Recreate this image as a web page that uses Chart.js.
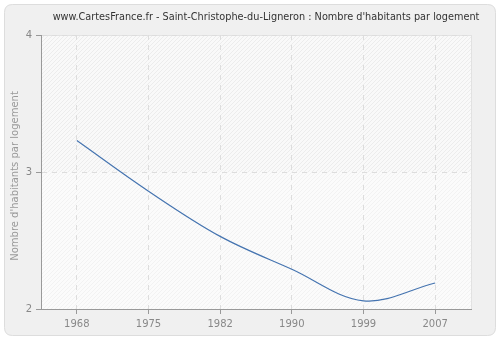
<!DOCTYPE html>
<html>
<head>
<meta charset="utf-8">
<script src="https://cdn.jsdelivr.net/npm/chart.js@4.4.0/dist/chart.umd.min.js"></script>
<style>
  html, body { margin: 0; padding: 0; background: #ffffff; }
  #wrap { width: 500px; height: 340px; }
</style>
</head>
<body>
<div id="wrap"><canvas id="c" width="500" height="340"></canvas></div>
<script>
// Census years and average household size
const years = ['1968', '1975', '1982', '1990', '1999', '2007'];
const habitantsParLogement = [3.23, 2.86, 2.53, 2.29, 2.06, 2.19];
const yTicks = [2, 3, 4];

const titleText = "www.CartesFrance.fr - Saint-Christophe-du-Ligneron : Nombre d'habitants par logement";
const yTitle = "Nombre d'habitants par logement";
const FONT = '"DejaVu Sans", Verdana, sans-serif';
const TITLE_FONT = '"DejaVu Sans Condensed", "DejaVu Sans", sans-serif';

function hatch(base, lineCol) {
  const n = 4;
  const p = document.createElement('canvas');
  p.width = n; p.height = n;
  const g = p.getContext('2d');
  g.fillStyle = base; g.fillRect(0, 0, n, n);
  g.fillStyle = lineCol;
  for (let i = 0; i < n; i++) g.fillRect(n - 1 - i, i, 1, 1);
  return p;
}

function roundRect(ctx, x, y, w, h, r) {
  ctx.beginPath();
  ctx.moveTo(x + r, y);
  ctx.lineTo(x + w - r, y);
  ctx.quadraticCurveTo(x + w, y, x + w, y + r);
  ctx.lineTo(x + w, y + h - r);
  ctx.quadraticCurveTo(x + w, y + h, x + w - r, y + h);
  ctx.lineTo(x + r, y + h);
  ctx.quadraticCurveTo(x, y + h, x, y + h - r);
  ctx.lineTo(x, y + r);
  ctx.quadraticCurveTo(x, y, x + r, y);
  ctx.closePath();
}

const backdrop = {
  id: 'backdrop',
  beforeDraw(chart) {
    const ctx = chart.ctx;
    const a = chart.chartArea;
    const y = chart.scales.y;
    ctx.save();
    ctx.fillStyle = '#ffffff';
    ctx.fillRect(0, 0, chart.width, chart.height);
    roundRect(ctx, 4.5, 4.5, 491, 331, 8);
    ctx.fillStyle = '#f0f0f0';
    ctx.fill();
    ctx.strokeStyle = '#dddddd';
    ctx.lineWidth = 1;
    ctx.stroke();

    const mid = y.getPixelForValue(3);
    ctx.fillStyle = ctx.createPattern(hatch('#f9f9f9', '#ececec'), 'repeat');
    ctx.fillRect(a.left, a.top, a.right - a.left, mid - a.top);
    ctx.fillStyle = ctx.createPattern(hatch('#fbfbfb', '#f2f2f2'), 'repeat');
    ctx.fillRect(a.left, mid, a.right - a.left, a.bottom - mid);
    ctx.strokeStyle = '#e2e2e2';
    ctx.strokeRect(a.left + 0.5, a.top + 0.5, a.right - a.left, a.bottom - a.top);

    // chart title
    ctx.fillStyle = '#333333';
    ctx.font = '10.8px ' + TITLE_FONT;
    ctx.textAlign = 'center';
    ctx.textBaseline = 'middle';
    ctx.fillText(titleText, 266, 17);

    // y axis title
    ctx.translate(15, 176);
    ctx.rotate(-Math.PI / 2);
    ctx.fillStyle = '#999999';
    ctx.font = '10px ' + FONT;
    ctx.fillText(yTitle, 0, 0);
    ctx.restore();
  }
};

new Chart(document.getElementById('c'), {
  type: 'line',
  data: {
    labels: years,
    datasets: [{
      data: habitantsParLogement,
      borderColor: '#4574b0',
      borderWidth: 1.2,
      pointRadius: 0,
      tension: 0.35,
      fill: false
    }]
  },
  options: {
    responsive: false,
    animation: false,
    events: [],
    layout: { padding: { left: 0, right: 29, top: 35, bottom: 0 } },
    plugins: { legend: { display: false }, title: { display: false }, tooltip: { enabled: false } },
    scales: {
      x: {
        offset: true,
        afterFit: s => { s.height = 31; },
        grid: {
          offset: false,
          color: '#dddddd',
          tickColor: '#999999',
          tickLength: 5,
          drawTicks: true
        },
        border: { color: '#999999', width: 1, dash: [5, 5] },
        ticks: { color: '#888888', font: { family: FONT, size: 10 }, padding: 4, maxRotation: 0 }
      },
      y: {
        min: 2, max: 4,
        afterFit: s => { s.width = 41; },
        afterBuildTicks: s => { s.ticks = yTicks.map(v => ({ value: v })); },
        grid: {
          color: '#dddddd',
          tickColor: '#999999',
          tickLength: 5
        },
        border: { color: '#999999', width: 1, dash: [5, 5] },
        ticks: { color: '#888888', font: { family: FONT, size: 10 }, padding: 4 }
      }
    }
  },
  plugins: [backdrop]
});
</script>
</body>
</html>
